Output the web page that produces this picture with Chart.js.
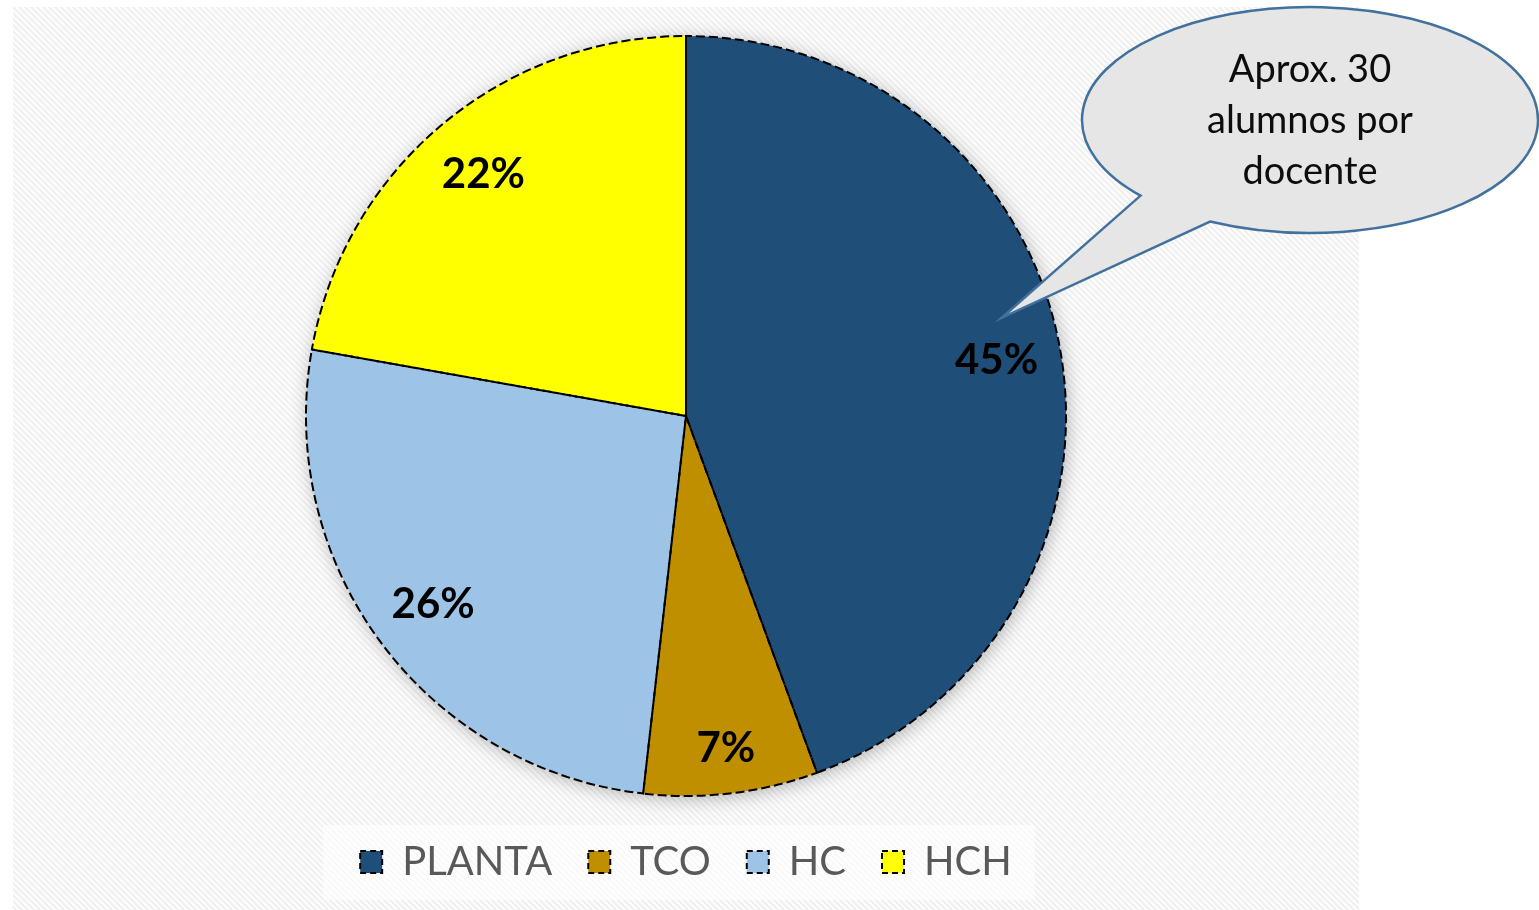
<!DOCTYPE html>
<html>
<head>
<meta charset="utf-8">
<title>Docentes</title>
<script src="https://cdn.jsdelivr.net/npm/chart.js@4/dist/chart.umd.min.js"></script>
<style>
  body { margin: 0; background: #ffffff; }
  #pieChart { display: block; }
</style>
</head>
<body>
<canvas id="pieChart" width="1539" height="910"></canvas>
<script>
let categories = ["PLANTA", "TCO", "HC", "HCH"];
let sliceValues = [44.4, 7.4, 26.0, 22.2];
let percentLabels = ["45%", "7%", "26%", "22%"];
let sliceColors = ["#1f4e79", "#bf8f00", "#9dc3e6", "#ffff00"];
let calloutLines = ["Aprox. 30", "alumnos por", "docente"];

let fontFamily = "Lato, 'Open Sans', sans-serif";

// striped background pattern
function makeStripes() {
  let tile = document.createElement("canvas");
  tile.width = 6;
  tile.height = 6;
  let t = tile.getContext("2d");
  t.fillStyle = "#fdfdfd";
  t.fillRect(0, 0, 6, 6);
  t.strokeStyle = "#efefef";
  t.lineWidth = 2;
  t.beginPath();
  t.moveTo(-3, -3); t.lineTo(9, 9);
  t.moveTo(-3, 3); t.lineTo(3, 9);
  t.moveTo(3, -3); t.lineTo(9, 3);
  t.stroke();
  return tile;
}

let backgroundPlugin = {
  id: "background",
  beforeDraw(chart) {
    let ctx = chart.ctx;
    ctx.save();
    ctx.fillStyle = ctx.createPattern(makeStripes(), "repeat");
    ctx.fillRect(13, 7, 1346, 903);
    // lighter box behind the legend
    let boxes = chart.legend.legendHitBoxes;
    if (boxes && boxes.length) {
      let first = boxes[0];
      let last = boxes[boxes.length - 1];
      ctx.fillStyle = "rgba(255,255,255,0.6)";
      ctx.fillRect(first.left - 37, first.top - 17, last.left + last.width - first.left + 60, 75);
    }
    ctx.restore();
  },
  beforeDatasetsDraw(chart) {
    // soft shadow under the pie
    let arc = chart.getDatasetMeta(0).data[0];
    if (!arc) return;
    let ctx = chart.ctx;
    ctx.save();
    ctx.shadowColor = "rgba(0,0,0,0.28)";
    ctx.shadowBlur = 18;
    ctx.shadowOffsetX = 2;
    ctx.shadowOffsetY = 3;
    ctx.fillStyle = "#ffffff";
    ctx.beginPath();
    ctx.arc(arc.x, arc.y, arc.outerRadius, 0, Math.PI * 2);
    ctx.fill();
    ctx.restore();
  },
};

// dashed outlines + bold percentage labels
let labelPlugin = {
  id: "sliceLabels",
  afterDatasetsDraw(chart) {
    let ctx = chart.ctx;
    let arcs = chart.getDatasetMeta(0).data;
    ctx.save();
    ctx.strokeStyle = "#000000";
    ctx.lineWidth = 2;
    ctx.setLineDash([9, 4]);
    arcs.forEach((arc) => {
      ctx.beginPath();
      ctx.moveTo(arc.x, arc.y);
      ctx.arc(arc.x, arc.y, arc.outerRadius, arc.startAngle, arc.endAngle);
      ctx.closePath();
      ctx.stroke();
    });
    ctx.setLineDash([]);
    ctx.fillStyle = "#000000";
    ctx.font = "bold 42px " + fontFamily;
    ctx.textAlign = "center";
    ctx.textBaseline = "middle";
    arcs.forEach((arc, i) => {
      let mid = (arc.startAngle + arc.endAngle) / 2;
      // small slices get their label pushed out a bit (like Excel best fit)
      let span = arc.endAngle - arc.startAngle;
      let r = arc.outerRadius * (span < 0.6 ? 0.88 : 0.83);
      ctx.fillText(percentLabels[i], arc.x + Math.cos(mid) * r, arc.y + Math.sin(mid) * r);
    });
    ctx.restore();
  },
  afterDraw(chart) {
    // speech bubble pointing into the PLANTA slice
    let arc = chart.getDatasetMeta(0).data[0];
    if (!arc) return;
    let ctx = chart.ctx;
    let a = arc.startAngle + (arc.endAngle - arc.startAngle) * 0.455;
    let tipX = arc.x + Math.cos(a) * arc.outerRadius * 0.87;
    let tipY = arc.y + Math.sin(a) * arc.outerRadius * 0.87;
    let cx = 1310, cy = 120, rx = 228, ry = 113;
    ctx.save();
    ctx.beginPath();
    ctx.ellipse(cx, cy, rx, ry, 0, (138 * Math.PI) / 180, (116 * Math.PI) / 180, false);
    ctx.lineTo(tipX, tipY);
    ctx.closePath();
    ctx.fillStyle = "#e7e6e6";
    ctx.fill();
    ctx.strokeStyle = "#41719c";
    ctx.lineWidth = 2.5;
    ctx.stroke();
    ctx.fillStyle = "#0d0d0d";
    ctx.font = "38px " + fontFamily;
    ctx.textAlign = "center";
    ctx.textBaseline = "middle";
    calloutLines.forEach((line, i) => {
      ctx.fillText(line, cx, 70 + i * 51);
    });
    ctx.restore();
  },
};

let pieData = {
  labels: categories,
  datasets: [
    {
      data: sliceValues,
      backgroundColor: sliceColors,
      borderWidth: 0,
      radius: 380,
    },
  ],
};

let pieOptions = {
  responsive: false,
  animation: false,
  devicePixelRatio: 1,
  layout: {
    padding: { left: 13, right: 180, top: 26, bottom: 18 },
  },
  plugins: {
    tooltip: { enabled: false },
    legend: {
      display: true,
      position: "bottom",
      labels: {
        color: "#595959",
        font: { family: fontFamily, size: 40 },
        boxWidth: 22,
        boxHeight: 22,
        padding: 36,
        generateLabels(chart) {
          return chart.data.labels.map((label, i) => ({
            text: label,
            fillStyle: sliceColors[i],
            strokeStyle: "#000000",
            lineWidth: 2,
            lineDash: [6, 4],
            fontColor: "#595959",
            hidden: false,
            index: i,
          }));
        },
      },
    },
  },
};

let ctx = document.getElementById("pieChart").getContext("2d");
let myPieChart = new Chart(ctx, {
  type: "pie",
  data: pieData,
  options: pieOptions,
  plugins: [backgroundPlugin, labelPlugin],
});
</script>
</body>
</html>
